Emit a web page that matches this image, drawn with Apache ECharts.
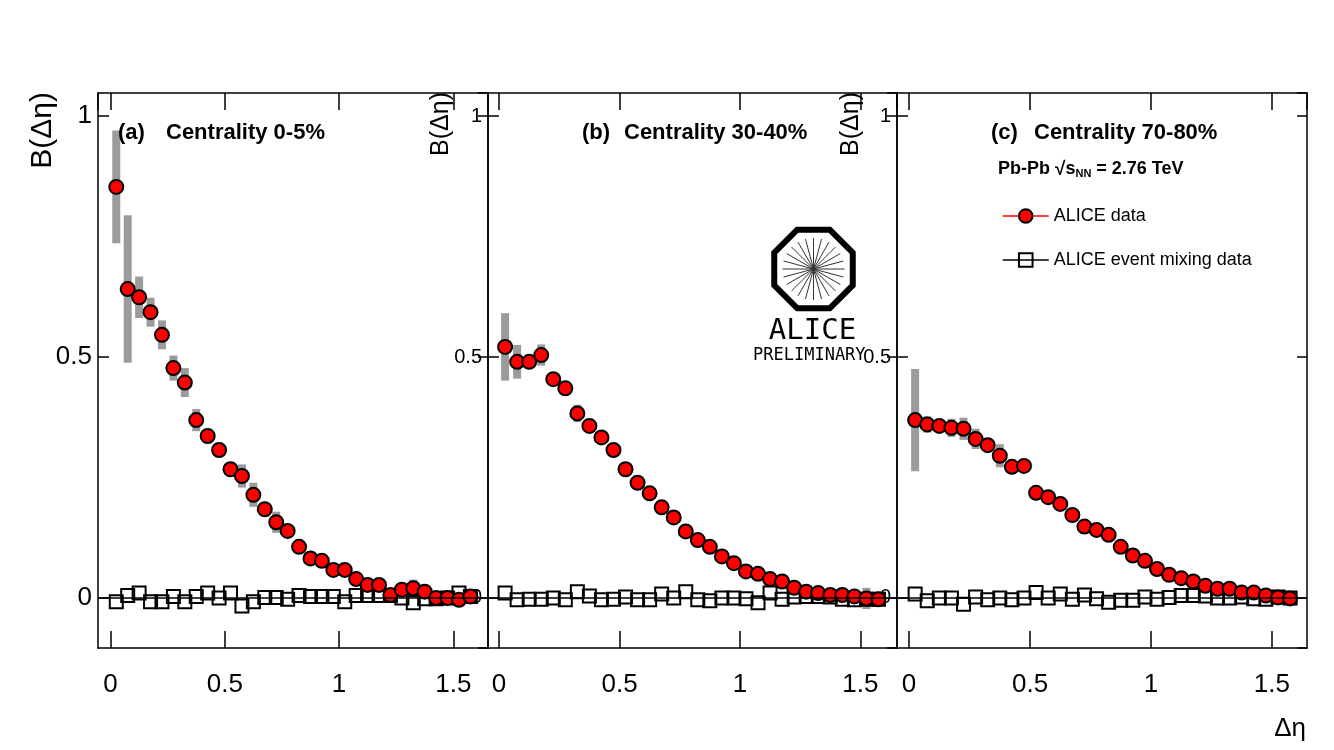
<!DOCTYPE html>
<html>
<head>
<meta charset="utf-8">
<title>Balance function B(Δη)</title>
<script src="https://cdn.jsdelivr.net/npm/echarts@6.0.0/dist/echarts.min.js"></script>
<style>
  html, body { margin: 0; padding: 0; background: #fff; }
  #chart-canvas { width: 1334px; height: 750px; }
</style>
</head>
<body>
<div id="chart-canvas"></div>
<script>
/* global echarts */
const FONT = '"Liberation Sans", Arial, sans-serif';

// Δη bin centres, same for the three centrality classes
const etaBins = [0.025, 0.075, 0.125, 0.175, 0.225, 0.275, 0.325, 0.375, 0.425, 0.475,
    0.525, 0.575, 0.625, 0.675, 0.725, 0.775, 0.825, 0.875, 0.925, 0.975,
    1.025, 1.075, 1.125, 1.175, 1.225, 1.275, 1.325, 1.375, 1.425, 1.475,
    1.525, 1.575];

// (a) centrality 0-5%
const balanceA = [0.853, 0.641, 0.624, 0.593, 0.546, 0.477, 0.447, 0.369, 0.336, 0.307,
    0.267, 0.253, 0.214, 0.184, 0.157, 0.139, 0.106, 0.082, 0.077, 0.058,
    0.058, 0.039, 0.027, 0.027, 0.006, 0.017, 0.020, 0.013, 0.000, 0.000,
    -0.004, 0.003];
const systA = [0.117, 0.153, 0.043, 0.030, 0.030, 0.026, 0.030, 0.023, 0.015, 0.015,
    0.015, 0.024, 0.025, 0.010, 0.022, 0.010, 0.015, 0.014, 0.010, 0.013,
    0.010, 0.010, 0.008, 0.008, 0.006, 0.008, 0.018, 0.008, 0.006, 0.006,
    0.006, 0.006];
const mixingA = [-0.008, 0.005, 0.010, -0.008, -0.008, 0.003, -0.008, 0.003, 0.010, 0.000,
    0.010, -0.017, -0.008, 0.001, 0.001, -0.003, 0.005, 0.003, 0.003, 0.003,
    -0.008, 0.005, 0.005, 0.005, 0.005, 0.000, -0.010, -0.002, -0.002, 0.000,
    0.010, 0.003];

// (b) centrality 30-40%
const balanceB = [0.521, 0.490, 0.490, 0.504, 0.454, 0.435, 0.383, 0.357, 0.333, 0.307,
    0.267, 0.239, 0.217, 0.188, 0.167, 0.138, 0.120, 0.106, 0.086, 0.072,
    0.055, 0.050, 0.039, 0.034, 0.021, 0.013, 0.010, 0.006, 0.006, 0.003,
    -0.001, -0.003];
const systB = [0.070, 0.035, 0.010, 0.022, 0.008, 0.010, 0.018, 0.015, 0.008, 0.008,
    0.008, 0.008, 0.008, 0.008, 0.008, 0.006, 0.006, 0.006, 0.006, 0.006,
    0.006, 0.006, 0.006, 0.006, 0.006, 0.006, 0.006, 0.006, 0.006, 0.006,
    0.022, 0.006];
const mixingB = [0.010, -0.004, -0.003, -0.003, 0.000, -0.004, 0.013, 0.004, -0.004, -0.003,
    0.002, -0.004, -0.004, 0.008, 0.000, 0.013, -0.004, -0.006, 0.000, 0.000,
    -0.002, -0.010, 0.010, -0.003, 0.002, 0.003, 0.003, 0.002, -0.003, -0.004,
    -0.003, -0.003];

// (c) centrality 70-80%
const balanceC = [0.369, 0.360, 0.357, 0.353, 0.351, 0.330, 0.317, 0.295, 0.272, 0.274,
    0.218, 0.209, 0.195, 0.172, 0.148, 0.141, 0.131, 0.106, 0.088, 0.077,
    0.060, 0.048, 0.041, 0.034, 0.025, 0.019, 0.019, 0.011, 0.011, 0.005,
    0.001, -0.001];
const systC = [0.106, 0.017, 0.008, 0.019, 0.023, 0.021, 0.008, 0.024, 0.008, 0.008,
    0.008, 0.012, 0.006, 0.006, 0.006, 0.006, 0.006, 0.006, 0.006, 0.006,
    0.006, 0.006, 0.006, 0.006, 0.006, 0.006, 0.006, 0.006, 0.006, 0.006,
    0.006, 0.006];
const mixingC = [0.008, -0.006, 0.000, 0.000, -0.013, 0.002, -0.004, 0.000, -0.004, 0.000,
    0.011, 0.000, 0.008, -0.003, 0.006, -0.002, -0.009, -0.005, -0.005, 0.002,
    -0.003, 0.001, 0.005, 0.005, 0.004, 0.000, 0.000, 0.002, -0.002, -0.003,
    0.002, 0.000];

const panelTags = ['(a)', '(b)', '(c)'];
const centralityLabels = ['Centrality 0-5%', 'Centrality 30-40%', 'Centrality 70-80%'];
const xTicks = [0, 0.5, 1, 1.5];
const yTicks = [0, 0.5, 1];

const balance = [balanceA, balanceB, balanceC];
const syst = [systA, systB, systC];
const mixing = [mixingA, mixingB, mixingC];

// pad layout (ROOT style, first pad carries the left margin)
const pads = [
    { left: 98, width: 390, xMin: -0.055, xMax: 1.652, tagX: 118, textX: 166 },
    { left: 488, width: 409, xMin: -0.046, xMax: 1.652, tagX: 582, textX: 624 },
    { left: 897, width: 410, xMin: -0.050, xMax: 1.645, tagX: 991, textX: 1034 },
];
const Y_MIN = -0.104;
const Y_MAX = 1.048;

let chart = null;

function tick_label(list) {
    return function (v) {
        const t = list.find(x => Math.abs(x - v) < 1e-6);
        return t === undefined ? '' : String(t);
    };
}

// grey box for the systematic uncertainty
function render_syst(params, api) {
    const x = api.value(0);
    const y = api.value(1);
    const e = api.value(2);
    const top = api.coord([x, y + e]);
    const bot = api.coord([x, y - e]);
    return {
        type: 'rect',
        shape: { x: top[0] - 4, y: top[1], width: 8, height: bot[1] - top[1] },
        style: { fill: '#9b9b9b' }
    };
}

function frame_line() {
    return { show: true, onZero: false, lineStyle: { color: '#000', width: 1.5 } };
}

function create_graph() {
    chart = echarts.init(document.getElementById('chart-canvas'));

    const grid = [];
    const xAxis = [];
    const yAxis = [];
    const series = [];
    const title = [];

    pads.forEach((p, i) => {
        grid.push({ left: p.left, width: p.width, top: 93, height: 555, outerBoundsMode: 'none' });

        // bottom axis with labels, top axis with ticks only
        xAxis.push({
            type: 'value', gridIndex: i, position: 'bottom', min: p.xMin, max: p.xMax, splitNumber: 4,
            axisLine: frame_line(),
            axisTick: { inside: true, length: 17, lineStyle: { color: '#000', width: 1.5 } },
            axisLabel: {
                formatter: tick_label(xTicks), margin: 24, color: '#000',
                fontFamily: FONT, fontSize: 26, showMinLabel: false, showMaxLabel: false
            },
            splitLine: { show: false }
        });
        xAxis.push({
            type: 'value', gridIndex: i, position: 'top', min: p.xMin, max: p.xMax, splitNumber: 4,
            axisLine: frame_line(),
            axisTick: { inside: true, length: 17, lineStyle: { color: '#000', width: 1.5 } },
            axisLabel: { show: false },
            splitLine: { show: false }
        });

        yAxis.push({
            type: 'value', gridIndex: i, position: 'left', min: Y_MIN, max: Y_MAX, splitNumber: 2,
            axisLine: frame_line(),
            axisTick: { inside: true, length: 11, lineStyle: { color: '#000', width: 1.5 } },
            axisLabel: {
                formatter: tick_label(yTicks), margin: 6, color: '#000',
                fontFamily: FONT, fontSize: i === 0 ? 26 : 20, showMinLabel: false, showMaxLabel: false
            },
            splitLine: { show: false }
        });
        yAxis.push({
            type: 'value', gridIndex: i, position: 'right', min: Y_MIN, max: Y_MAX, splitNumber: 2,
            axisLine: frame_line(),
            axisTick: { inside: true, length: 10, lineStyle: { color: '#000', width: 1.5 } },
            axisLabel: { show: false },
            splitLine: { show: false }
        });

        series.push({
            type: 'custom',
            xAxisIndex: 2 * i,
            yAxisIndex: 2 * i,
            renderItem: render_syst,
            data: etaBins.map((x, k) => [x, balance[i][k], syst[i][k]]),
            z: 1
        });
        series.push({
            name: 'ALICE event mixing data',
            type: 'line',
            xAxisIndex: 2 * i,
            yAxisIndex: 2 * i,
            data: etaBins.map((x, k) => [x, mixing[i][k]]),
            symbol: 'rect',
            symbolSize: 13,
            itemStyle: { color: 'rgba(255,255,255,0)', borderColor: '#000', borderWidth: 2 },
            lineStyle: { color: '#000', width: 1, opacity: 0 },
            markLine: {
                silent: true,
                symbol: 'none',
                label: { show: false },
                lineStyle: { color: '#000', width: 1.5, type: 'solid' },
                data: [{ yAxis: 0 }]
            },
            z: 2
        });
        series.push({
            name: 'ALICE data',
            type: 'line',
            xAxisIndex: 2 * i,
            yAxisIndex: 2 * i,
            data: etaBins.map((x, k) => [x, balance[i][k]]),
            symbol: 'circle',
            symbolSize: 14,
            itemStyle: { color: '#ff0000', borderColor: '#000', borderWidth: 2 },
            lineStyle: { color: '#ff0000', width: 1, opacity: 0 },
            z: 3
        });

        const bold = { fontFamily: FONT, fontSize: 22, fontWeight: 'bold', color: '#000' };
        title.push({ text: panelTags[i], left: p.tagX, top: 122, padding: 0, textStyle: bold });
        title.push({ text: centralityLabels[i], left: p.textX, top: 122, padding: 0, textStyle: bold });
    });

    title.push({
        text: '{b|Pb-Pb }{r|√}{s|s}{n|NN}{b| = 2.76 TeV}',
        left: 998, top: 160, padding: 0,
        textStyle: {
            rich: {
                b: { fontFamily: FONT, fontSize: 18, fontWeight: 'bold', color: '#000' },
                r: { fontFamily: FONT, fontSize: 19, color: '#000' },
                s: { fontFamily: FONT, fontSize: 18, fontWeight: 'bold', color: '#000' },
                n: { fontFamily: FONT, fontSize: 11, fontWeight: 'bold', color: '#000', verticalAlign: 'bottom', padding: [8, 0, 0, 0] }
            }
        }
    });

    // axis titles and the ALICE preliminary logo
    const graphic = [];
    const yTitles = [
        { x: 43, size: 30 },
        { x: 441, size: 25 },
        { x: 851, size: 25 },
    ];
    yTitles.forEach(t => {
        graphic.push({
            type: 'text', x: t.x, y: 92, rotation: Math.PI / 2, z: 10,
            style: {
                text: 'B(Δη)', fill: '#000', font: t.size + 'px ' + FONT,
                textAlign: 'right', align: 'right', textVerticalAlign: 'middle', verticalAlign: 'middle'
            }
        });
    });
    graphic.push({
        type: 'text', x: 1306, y: 716, z: 10,
        style: {
            text: 'Δη', fill: '#000', font: '26px ' + FONT,
            textAlign: 'right', align: 'right', textVerticalAlign: 'top', verticalAlign: 'top'
        }
    });

    const cx = 813.5, cy = 269, R = 42.5;
    const octagon = [];
    for (let k = 0; k < 8; k++) {
        const a = Math.PI / 8 + k * Math.PI / 4;
        octagon.push([cx + R * Math.cos(a), cy + R * Math.sin(a)]);
    }
    graphic.push({
        type: 'polygon', z: 10, shape: { points: octagon },
        style: { fill: 'none', stroke: '#000', lineWidth: 6 }
    });
    for (let k = 0; k < 24; k++) {
        const a = k * Math.PI / 12;
        graphic.push({
            type: 'line', z: 10,
            shape: { x1: cx, y1: cy, x2: cx + 31 * Math.cos(a), y2: cy + 31 * Math.sin(a) },
            style: { stroke: '#333', lineWidth: 1 }
        });
    }
    graphic.push({
        type: 'text', x: 812.5, y: 331, z: 10,
        style: {
            text: 'ALICE', fill: '#000', font: '29px "DejaVu Sans Mono", monospace',
            textAlign: 'center', align: 'center', textVerticalAlign: 'middle', verticalAlign: 'middle'
        }
    });
    graphic.push({
        type: 'text', x: 753, y: 356, z: 10,
        style: {
            text: 'PRELIMINARY', fill: '#000', font: '17px "DejaVu Sans Mono", monospace',
            textAlign: 'left', align: 'left', textVerticalAlign: 'middle', verticalAlign: 'middle'
        }
    });

    const option = {
        animation: false,
        backgroundColor: '#fff',
        title: title,
        grid: grid,
        xAxis: xAxis,
        yAxis: yAxis,
        legend: {
            data: [
                { name: 'ALICE data', lineStyle: { color: '#ff0000', width: 1.5, type: 'solid', opacity: 1 } },
                { name: 'ALICE event mixing data', lineStyle: { color: '#000', width: 1.5, type: 'solid', opacity: 1 } }
            ],
            orient: 'vertical',
            left: 1002,
            top: 207,
            padding: 0,
            itemWidth: 46,
            itemHeight: 17,
            itemGap: 26,
            selectedMode: false,
            textStyle: { fontFamily: FONT, fontSize: 18, color: '#000' }
        },
        graphic: graphic,
        series: series
    };
    chart.setOption(option);
}

create_graph();
</script>
</body>
</html>
